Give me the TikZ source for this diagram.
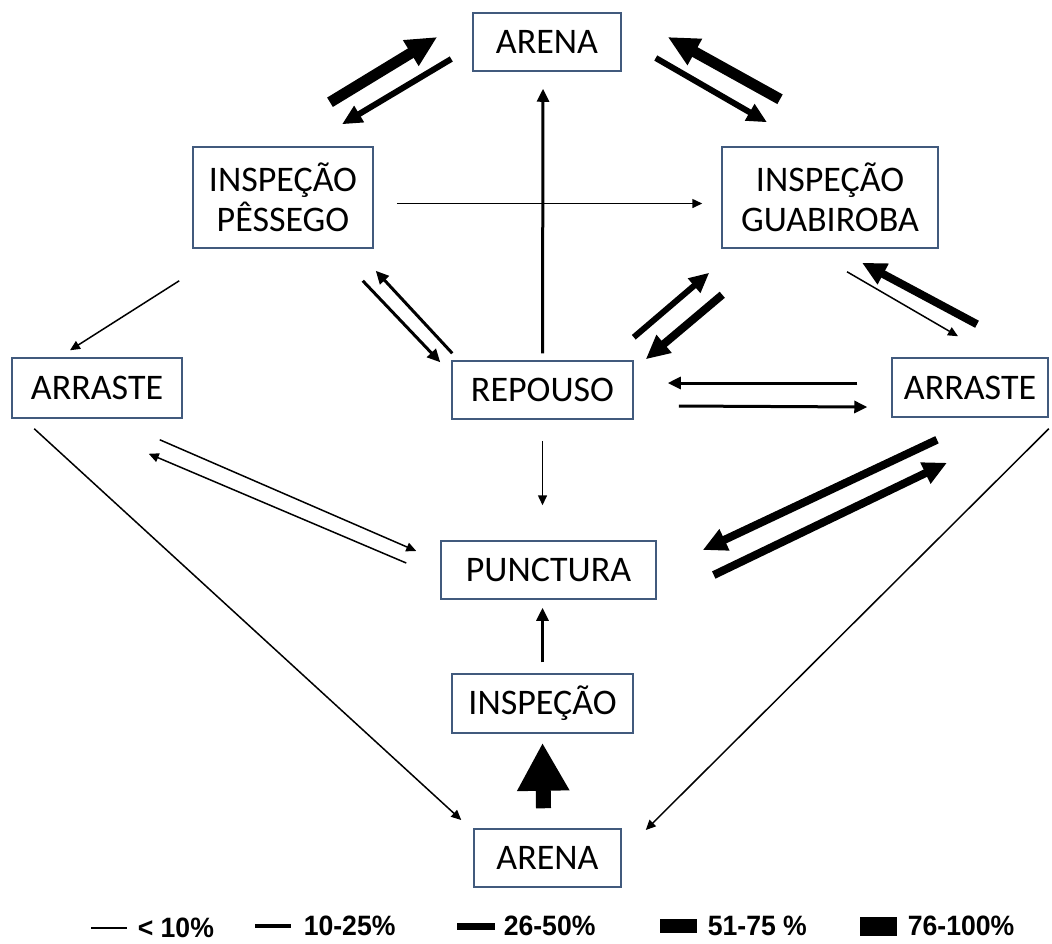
\documentclass[tikz,border=0pt]{standalone}
\usepackage{fontspec}
\setmainfont{Carlito}
\newfontfamily\legendfont{Liberation Sans}
\usetikzlibrary{arrows.meta,positioning}
\definecolor{boxline}{RGB}{65,90,125}

\begin{document}
\begin{tikzpicture}[
                    x=0.5pt, y=-0.5pt,
                    box/.style={draw=boxline, line width=0.75pt, inner sep=0pt,
                        align=center, font=\fontsize{18}{20}\selectfont},
                    w1/.style={line width=0.75pt, -{Triangle[length=5pt,width=4.5pt]}},
                    w2/.style={line width=1.5pt, -{Triangle[length=6.5pt,width=6pt]}},
                    w3/.style={line width=3pt, -{Triangle[length=10pt,width=9pt]}},
                    w4/.style={line width=4pt, -{Triangle[length=12pt,width=11pt]}},
                    w5/.style={line width=5.5pt, -{Triangle[length=15.5pt,width=14pt]}},
                    w6/.style={line width=7.5pt, -{Triangle[length=24pt,width=24.5pt]}},
                    swatch/.style={fill=black, inner sep=0pt},
                    legtext/.style={inner sep=0pt,
                        font=\legendfont\bfseries\fontsize{14}{16}\selectfont}
                ]
                \fill[white] (0,0) rectangle (1052,943);
                \useasboundingbox (0,0) rectangle (1052,943);

                \node[box, minimum width=74pt, minimum height=29pt] (arenaT) at (547,42) {ARENA};
                \node[box, minimum width=90pt, minimum height=50.5pt] (pes) at (283,197.5) {INSPEÇÃO\\PÊSSEGO};
                \node[box, minimum width=108pt, minimum height=50.5pt] (gua) at (830,197.5) {INSPEÇÃO\\GUABIROBA};
                \node[box, minimum width=85pt, minimum height=30pt] (arrL) at (97,388) {ARRASTE};
                \node[box, minimum width=90.5pt, minimum height=29pt] (rep) at (542.5,390) {REPOUSO};
                \node[box, minimum width=78pt, minimum height=29.5pt] (arrR) at (970,387.5) {ARRASTE};
                \node[box, minimum width=107.5pt, minimum height=29pt] (pun) at (548.5,570) {PUNCTURA};
                \node[box, minimum width=90.5pt, minimum height=29.5pt] (insp) at (542.5,703.5) {INSPEÇÃO};
                \node[box, minimum width=73.5pt, minimum height=29pt] (arenaB) at (547.5,858) {ARENA};

                % transitions
                \path
                ([shift={(47,-44)}]pes.north) edge[w5] ([shift={(-35,-5)}]arenaT.west)
                ([shift={(-21,17)}]arenaT.west) edge[w3] ([shift={(59,-22)}]pes.north)
                ([shift={(-50,-47)}]gua.north) edge[w5] ([shift={(46,-5)}]arenaT.east)
                ([shift={(34,16)}]arenaT.east) edge[w3] ([shift={(-63,-24)}]gua.north)
                ([shift={(0,-7)}]rep.north) edge[w2] ([shift={(-4,17)}]arenaT.south)
                ([shift={(23,6)}]pes.east) edge[w1] ([shift={(-19,6)}]gua.west)
                ([shift={(-13,32)}]pes.south west) edge[w1] ([shift={(-27,-7)}]arrL.north)
                ([shift={(-11,32)}]pes.south east) edge[w2] ([shift={(-11,2)}]rep.north west)
                ([shift={(1,-7)}]rep.north west) edge[w2] ([shift={(2,22)}]pes.south east)
                ([shift={(0,-23)}]rep.north east) edge[w3] ([shift={(-12,24)}]gua.south west)
                ([shift={(1,46)}]gua.south west) edge[w4] ([shift={(12,-1)}]rep.north east)
                ([shift={(17,23)}]gua.south) edge[w1] ([shift={(-12,-21)}]arrR.north)
                ([shift={(7,-33)}]arrR.north) edge[w4] ([shift={(32,14)}]gua.south)
                ([shift={(-34,-4.5)}]arrR.west) edge[w2] ([shift={(34,-7)}]rep.east)
                ([shift={(45,16)}]rep.east) edge[w2] ([shift={(-24,19.5)}]arrR.west)
                ([shift={(-33,22)}]arrR.south) edge[w4] ([shift={(46,-20)}]pun.east)
                ([shift={(57,5)}]pun.east) edge[w4] ([shift={(-23,45)}]arrR.south)
                ([shift={(0,11)}]arrR.south east) edge[w1] ([shift={(24,-28)}]arenaB.east)
                ([shift={(23,10)}]arrL.south west) edge[w1] ([shift={(-12,-38)}]arenaB.west)
                ([shift={(-23,21)}]arrL.south east) edge[w1] ([shift={(-24,-19)}]pun.west)
                ([shift={(-34,-7)}]pun.west) edge[w1] ([shift={(-34,35)}]arrL.south east)
                ([shift={(0,21)}]rep.south) edge[w1] ([shift={(-6,-35)}]pun.north)
                ([shift={(0,-11)}]insp.north) edge[w2] ([shift={(-6,8)}]pun.south)
                ([shift={(-4,-20)}]arenaB.north) edge[w6] ([shift={(0,9)}]insp.south)
                ;

                % legend
                \node[swatch, minimum width=18pt, minimum height=0.75pt] (sw1) at (109,928) {};
                \node[legtext, right=5pt of sw1] (lg1) {\scalebox{0.95}[1]{< 10\%}};
                \node[swatch, minimum width=18pt, minimum height=2pt] (sw2) at (273,926) {};
                \node[legtext, right=6pt of sw2] (lg2) {\scalebox{0.95}[1]{10-25\%}};
                \node[swatch, minimum width=19pt, minimum height=3.5pt] (sw3) at (476,926) {};
                \node[legtext, right=4pt of sw3] (lg3) {\scalebox{0.95}[1]{26-50\%}};
                \node[swatch, minimum width=18.5pt, minimum height=7pt] (sw4) at (678.5,926) {};
                \node[legtext, right=5pt of sw4] (lg4) {\scalebox{0.95}[1]{51-75 \%}};
                \node[swatch, minimum width=18.5pt, minimum height=9.5pt] (sw5) at (878.5,926) {};
                \node[legtext, right=5pt of sw5] (lg5) {\scalebox{0.95}[1]{76-100\%}};
            \end{tikzpicture}
\end{document}
